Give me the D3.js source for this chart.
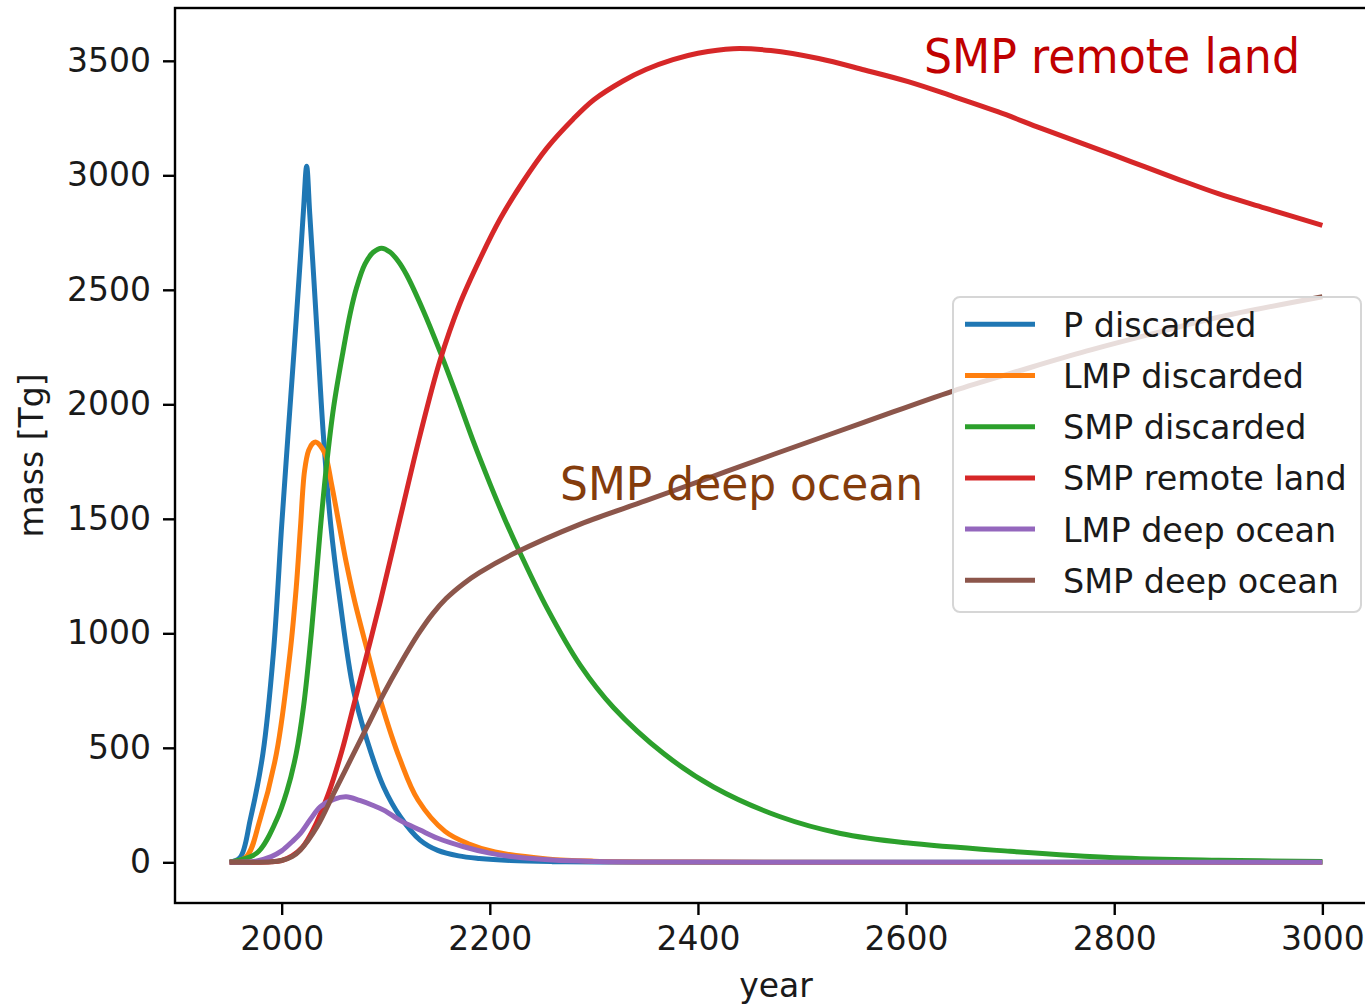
<!DOCTYPE html>
<html>
<head>
<meta charset="utf-8">
<script src="https://cdn.jsdelivr.net/npm/d3@7"></script>
<style>
  body { margin: 0; background: #fff; }
  svg { display: block; }
  text { font-family: 'DejaVu Sans', sans-serif; }
</style>
</head>
<body>
<div id="chart"></div>
<script>
// values: [year, mass in Tg]
let pDiscarded = [
  [1950, 0], [1960, 20], [1970, 190], [1982, 476], [1992, 912], [2000, 1470],
  [2006, 1860], [2012, 2240], [2018, 2640], [2021, 2850], [2024, 3040],
  [2027, 2830], [2031, 2540], [2035, 2240], [2040, 1870], [2047, 1480],
  [2056, 1143], [2069, 751], [2082, 533], [2098, 329], [2114, 199],
  [2133, 97], [2150, 52], [2170, 28], [2190, 17], [2220, 8], [2260, 3],
  [2300, 1], [2400, 0], [3000, 0]
]
let lmpDiscarded = [
  [1950, 0], [1966, 24], [1979, 184], [1995, 476], [2008, 912], [2014, 1200],
  [2018, 1460], [2022, 1710], [2026, 1800], [2030, 1830], [2033, 1835],
  [2037, 1820], [2042, 1780], [2048, 1650], [2055, 1480], [2062, 1310],
  [2070, 1143], [2082, 930], [2095, 707], [2114, 446], [2131, 272],
  [2157, 135], [2180, 80], [2205, 45], [2255, 15], [2300, 5], [2400, 1],
  [3000, 0]
]
let smpDiscarded = [
  [1950, 0], [1976, 40], [1995, 184], [2005, 310], [2014, 476], [2021, 680],
  [2027, 930], [2032, 1180], [2037, 1448], [2043, 1730], [2050, 1990],
  [2059, 2232], [2066, 2400], [2072, 2510], [2080, 2612], [2088, 2664],
  [2096, 2682], [2104, 2665], [2112, 2625], [2120, 2566], [2136, 2410],
  [2152, 2232], [2168, 2040], [2184, 1840], [2200, 1655], [2215, 1492],
  [2229, 1352], [2255, 1110], [2287, 860], [2319, 675], [2367, 475],
  [2415, 329], [2479, 199], [2537, 126], [2600, 85], [2700, 48],
  [2800, 20], [2900, 9], [3000, 4]
]
let smpRemoteLand = [
  [1950, 0], [1990, 2], [2000, 8], [2010, 28], [2020, 66], [2030, 140],
  [2045, 301], [2058, 489], [2070, 700], [2082, 910], [2095, 1143],
  [2114, 1506], [2133, 1866], [2152, 2189], [2171, 2437], [2191, 2639],
  [2210, 2810], [2232, 2973], [2255, 3120], [2280, 3245], [2300, 3330],
  [2328, 3412], [2350, 3462], [2376, 3505], [2400, 3533], [2434, 3553],
  [2470, 3545], [2516, 3510], [2560, 3460], [2602, 3409], [2645, 3345],
  [2688, 3278], [2730, 3205], [2773, 3133], [2816, 3060], [2859, 2987],
  [2900, 2920], [2945, 2857], [3000, 2781]
]
let lmpDeepOcean = [
  [1950, 0], [1975, 5], [1990, 25], [2000, 50], [2010, 90], [2018, 126],
  [2028, 190], [2037, 242], [2050, 275], [2062, 286], [2075, 270],
  [2088, 248], [2098, 228], [2115, 180], [2133, 141], [2150, 105],
  [2175, 68], [2200, 40], [2223, 24], [2260, 10], [2300, 4], [2400, 1],
  [3000, 0]
]
let smpDeepOcean = [
  [1950, 0], [1990, 2], [2000, 8], [2010, 25], [2018, 54], [2034, 155],
  [2050, 301], [2066, 446], [2082, 591], [2098, 736], [2114, 867],
  [2131, 995], [2145, 1085], [2158, 1152], [2175, 1218], [2190, 1265],
  [2222, 1346], [2287, 1477], [2350, 1579], [2410, 1678], [2473, 1782],
  [2560, 1922], [2645, 2058], [2710, 2148], [2773, 2232], [2840, 2312],
  [2900, 2380], [3000, 2470]
]

let seriesNames = [
  'P discarded',
  'LMP discarded',
  'SMP discarded',
  'SMP remote land',
  'LMP deep ocean',
  'SMP deep ocean'
]
let seriesColors = ['#1f77b4', '#ff7f0e', '#2ca02c', '#d62728', '#9467bd', '#8c564b']
let xTicks = [2000, 2200, 2400, 2600, 2800, 3000]
let yTicks = [0, 500, 1000, 1500, 2000, 2500, 3000, 3500]

let series = [pDiscarded, lmpDiscarded, smpDiscarded, smpRemoteLand, lmpDeepOcean, smpDeepOcean].map(
  function(values, i) {
    return { name: seriesNames[i], color: seriesColors[i], values: values }
  }
)

let width = 1365
let height = 1005
let plot = { left: 175, top: 8, right: 1377, bottom: 903 }

let svg = d3
  .select('#chart')
  .append('svg')
  .attr('width', width)
  .attr('height', height)

// matplotlib style 5% padding around the data
let allPoints = d3.merge(series.map(d => d.values))
let xExtent = d3.extent(allPoints, d => d[0])
let yExtent = d3.extent(allPoints, d => d[1])
let xPad = (xExtent[1] - xExtent[0]) * 0.05
let yPad = (yExtent[1] - yExtent[0]) * 0.05

let xPositionScale = d3
  .scaleLinear()
  .domain([xExtent[0] - xPad, xExtent[1] + xPad])
  .range([plot.left, plot.right])
let yPositionScale = d3
  .scaleLinear()
  .domain([yExtent[0] - yPad, yExtent[1] + yPad])
  .range([plot.bottom, plot.top])

let line = d3
  .line()
  .x(function(d) {
    return xPositionScale(d[0])
  })
  .y(function(d) {
    return yPositionScale(d[1])
  })
  .curve(d3.curveCatmullRom.alpha(0.5))

svg
  .selectAll('.mass-line')
  .data(series)
  .enter()
  .append('path')
  .attr('class', 'mass-line')
  .attr('d', d => line(d.values))
  .attr('fill', 'none')
  .attr('stroke', d => d.color)
  .attr('stroke-width', 5)

// axes
let xAxis = d3
  .axisBottom(xPositionScale)
  .tickValues(xTicks)
  .tickSize(12)
  .tickSizeOuter(0)
  .tickPadding(12)
  .tickFormat(d3.format('d'))
svg
  .append('g')
  .attr('class', 'axis x-axis')
  .attr('transform', 'translate(0,' + plot.bottom + ')')
  .call(xAxis)

let yAxis = d3
  .axisLeft(yPositionScale)
  .tickValues(yTicks)
  .tickSize(12)
  .tickSizeOuter(0)
  .tickPadding(12)
  .tickFormat(d3.format('d'))
svg
  .append('g')
  .attr('class', 'axis y-axis')
  .attr('transform', 'translate(' + plot.left + ',0)')
  .call(yAxis)

svg.selectAll('.axis .domain').remove()
svg
  .selectAll('.axis line')
  .attr('stroke', '#000')
  .attr('stroke-width', 2.4)
svg
  .selectAll('.axis text')
  .attr('font-size', 33)
  .attr('font-family', 'DejaVu Sans')
  .attr('fill', '#1a1a1a')

svg
  .append('rect')
  .attr('x', plot.left)
  .attr('y', plot.top)
  .attr('width', plot.right - plot.left)
  .attr('height', plot.bottom - plot.top)
  .attr('fill', 'none')
  .attr('stroke', '#000')
  .attr('stroke-width', 2.4)

svg
  .append('text')
  .attr('x', (plot.left + plot.right) / 2)
  .attr('y', 997)
  .attr('text-anchor', 'middle')
  .attr('font-size', 33)
  .attr('fill', '#1a1a1a')
  .text('year')

svg
  .append('text')
  .attr('transform', 'translate(43,' + (plot.top + plot.bottom) / 2 + ') rotate(-90)')
  .attr('text-anchor', 'middle')
  .attr('font-size', 33)
  .attr('fill', '#1a1a1a')
  .text('mass [Tg]')

// legend
let legend = svg.append('g').attr('class', 'legend')
legend
  .append('rect')
  .attr('x', 953)
  .attr('y', 297)
  .attr('width', 408)
  .attr('height', 315)
  .attr('rx', 7)
  .attr('fill', '#fff')
  .attr('fill-opacity', 0.8)
  .attr('stroke', '#d6d6d6')
  .attr('stroke-width', 2)

let rows = legend
  .selectAll('.legend-row')
  .data(series)
  .enter()
  .append('g')
  .attr('class', 'legend-row')
  .attr('transform', (d, i) => 'translate(0,' + (324.3 + i * 51.2) + ')')
rows
  .append('line')
  .attr('x1', 965)
  .attr('x2', 1035)
  .attr('stroke', d => d.color)
  .attr('stroke-width', 5)
rows
  .append('text')
  .attr('x', 1063)
  .attr('y', 12.5)
  .attr('font-size', 33.4)
  .attr('fill', '#1a1a1a')
  .text(d => d.name)

// labels added on top of the plot
svg
  .append('text')
  .attr('x', 924)
  .attr('y', 73)
  .attr('font-family', "'Open Sans', sans-serif")
  .attr('font-size', 48)
  .attr('fill', '#c00000')
  .attr('textLength', 376)
  .attr('lengthAdjust', 'spacingAndGlyphs')
  .text('SMP remote land')

svg
  .append('text')
  .attr('x', 560)
  .attr('y', 500)
  .attr('font-family', "'Open Sans', sans-serif")
  .attr('font-size', 46)
  .attr('fill', '#843c0c')
  .attr('textLength', 363)
  .attr('lengthAdjust', 'spacingAndGlyphs')
  .text('SMP deep ocean')
</script>
</body>
</html>
